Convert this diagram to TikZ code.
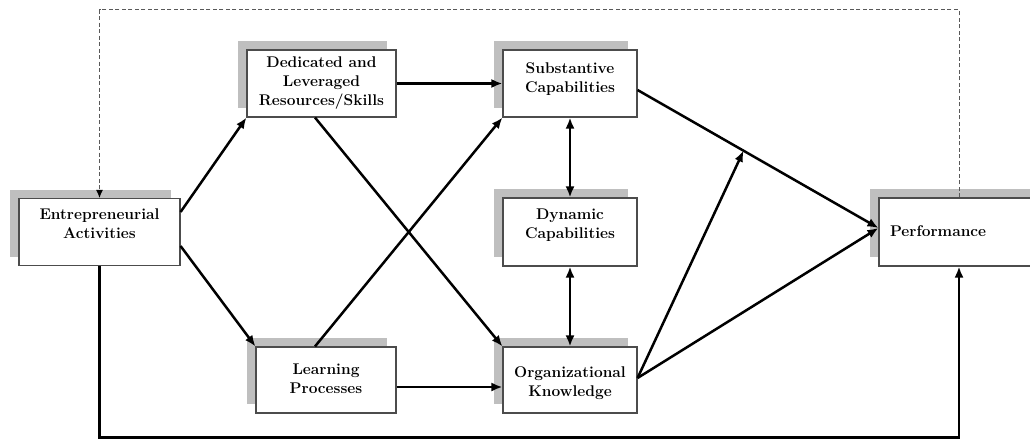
\documentclass[tikz,border=0pt]{standalone}
\usepackage{fontspec}
\usetikzlibrary{arrows.meta, calc, shadows}

\begin{document}
\begin{tikzpicture}[x=1pt, y=-1pt,
  block/.style={
    draw=black!70, line width=1.1pt, fill=white,
    drop shadow={shadow xshift=-9pt, shadow yshift=9pt, fill=black!25, opacity=1},
    align=center, inner sep=2pt,
    font=\fontsize{15.5}{19}\selectfont\bfseries
  },
  arr/.style={-{Latex[length=11pt, width=9pt]}, line width=2.5pt},
  dbl/.style={{Latex[length=11pt, width=9pt]}-{Latex[length=11pt, width=9pt]}, line width=2.5pt},
  loopback/.style={draw=black!65, line width=1pt, dash pattern=on 4pt off 2.5pt,
    -{Latex[length=8pt, width=7pt, black]}}
]
  \useasboundingbox (0,0) rectangle (1030,441);

  \node[block, minimum width=161pt, minimum height=67pt] (ent) at (99.5,232) {Entrepreneurial\\Activities\\[-3pt]};
  \node[block, minimum width=149pt, minimum height=67pt] (ded) at (321.5,83.5) {Dedicated and\\Leveraged\\Resources/Skills};
  \node[block, minimum width=134pt, minimum height=67pt] (sub) at (570,83.5) {Substantive\\Capabilities\\[-7pt]};
  \node[block, minimum width=134pt, minimum height=68pt] (dyn) at (570,232) {Dynamic\\Capabilities\\[-3pt]};
  \node[block, minimum width=140pt, minimum height=66pt] (lrn) at (326,380) {\mbox{}\\[-11pt]Learning\\Processes};
  \node[block, minimum width=134pt, minimum height=66pt] (org) at (570,380) {\mbox{}\\[-1pt]Organizational\\Knowledge};
  \node[block, minimum width=160pt, minimum height=68pt, text width=138pt, align=left] (perf) at (959,232) {\mbox{}\\[-9pt]Performance};

  % helper points
  \coordinate (topy) at (0,10);
  \coordinate (boty) at (0,437.5);
  \coordinate (s1) at ([yshift=-6.5pt]sub.east);
  \coordinate (o1) at ([yshift=2pt]org.east);
  \coordinate (pin) at ([yshift=4pt]perf.west);
  \coordinate (mid) at ($(s1)!0.44!(pin)$);

  \draw[arr] ([yshift=20pt]ent.east) -- (ded.south west);
  \draw[arr] ([yshift=-14pt]ent.east) -- (lrn.north west);
  \draw[arr] (ded.east) -- (sub.west);
  \draw[arr] ([xshift=-6.5pt]ded.south) -- (org.north west);
  \draw[arr] ([xshift=-11pt]lrn.north) -- (sub.south west);
  \draw[arr] ([yshift=-7pt]lrn.east) -- ([yshift=-7pt]org.west);
  \draw[dbl] (sub.south) -- (dyn.north);
  \draw[dbl] (dyn.south) -- (org.north);
  \draw[arr] (s1) -- (pin);
  \draw[arr] (o1) -- (pin);
  \draw[arr] (o1) -- (mid);

  \draw[loopback] (perf.north) -- (perf.north |- topy) -- (ent.north |- topy) -- (ent.north);
  \draw[arr] (ent.south) -- (ent.south |- boty) -- (perf.south |- boty) -- (perf.south);
\end{tikzpicture}
\end{document}
